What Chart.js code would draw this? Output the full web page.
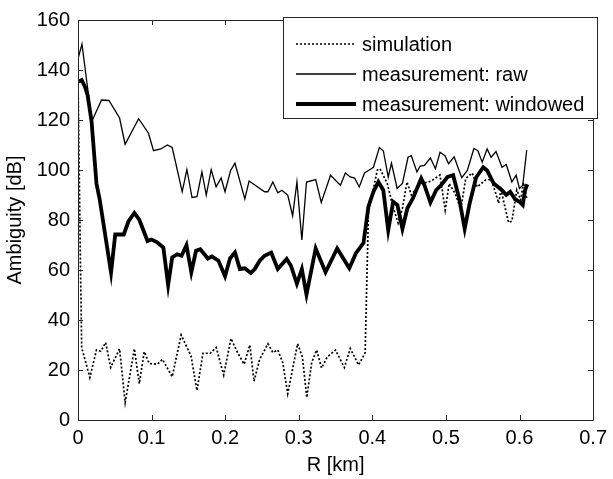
<!DOCTYPE html>
<html>
<head>
<meta charset="utf-8">
<script src="https://cdn.jsdelivr.net/npm/chart.js@4"></script>
<style>
  html, body { margin: 0; padding: 0; background: #fff; }
  #wrap { width: 613px; height: 479px; }
</style>
</head>
<body>
<div id="wrap"><canvas id="myChart" width="613" height="479"></canvas></div>
<script>
// ---- datos ----
const xTicks = [0, 0.1, 0.2, 0.3, 0.4, 0.5, 0.6, 0.7];
const yTicks = [0, 20, 40, 60, 80, 100, 120, 140, 160];
const seriesNames = ["simulation", "measurement: raw", "measurement: windowed"];

const simR = [0, 0.003, 0.005, 0.0161, 0.0251, 0.0309, 0.0376, 0.0444, 0.0565, 0.0641, 0.0766, 0.0833, 0.09, 0.0968, 0.108, 0.1147, 0.128, 0.1402, 0.1536, 0.1617, 0.1698, 0.1797, 0.1878, 0.198, 0.2079, 0.2168, 0.2258, 0.2335, 0.2392, 0.2469, 0.2581, 0.2648, 0.2715, 0.2782, 0.285, 0.2984, 0.3051, 0.3109, 0.3176, 0.3243, 0.331, 0.3387, 0.3499, 0.362, 0.37, 0.3813, 0.388, 0.3902, 0.3947, 0.4068, 0.4104, 0.4203, 0.4274, 0.435, 0.4409, 0.4471, 0.453, 0.4597, 0.4686, 0.4753, 0.482, 0.4919, 0.499, 0.5044, 0.5125, 0.5202, 0.5269, 0.5358, 0.5426, 0.5538, 0.5614, 0.5685, 0.5716, 0.5749, 0.5851, 0.5896, 0.5963, 0.6017, 0.6053, 0.6098];
const simDb = [137, 70, 29, 17, 28, 27.5, 31, 21, 28.5, 7, 28.5, 14.5, 27.3, 22.6, 22.3, 24.3, 17.3, 34, 25.6, 11.8, 26.7, 26.7, 29, 18, 32.6, 27, 22.3, 30, 15.5, 24.3, 30.5, 27, 28, 23, 10.5, 30.5, 25, 9, 23, 28, 20.8, 25.2, 28, 21, 28.6, 22, 25.6, 27, 83, 100, 100.5, 94.6, 86, 78.8, 84.7, 95.2, 90, 92.6, 95, 95, 96, 98, 84, 94.6, 90.6, 84.3, 96.6, 98.8, 93.2, 96, 96.2, 90, 86.7, 92, 79, 79.5, 92, 88, 95, 88.7];

const rawR = [0, 0.0054, 0.0188, 0.032, 0.042, 0.0565, 0.064, 0.0824, 0.0958, 0.1026, 0.1125, 0.1214, 0.128, 0.1416, 0.148, 0.155, 0.1617, 0.1684, 0.1743, 0.181, 0.1877, 0.1945, 0.1998, 0.2074, 0.2133, 0.2267, 0.2325, 0.2536, 0.2581, 0.2648, 0.2715, 0.277, 0.285, 0.2917, 0.2975, 0.3042, 0.3105, 0.323, 0.3306, 0.3432, 0.3566, 0.3633, 0.37, 0.3759, 0.3822, 0.3894, 0.3969, 0.4015, 0.4095, 0.4149, 0.4216, 0.426, 0.4337, 0.4409, 0.4485, 0.453, 0.4606, 0.465, 0.4708, 0.4789, 0.4857, 0.492, 0.4987, 0.5036, 0.5112, 0.517, 0.5215, 0.5291, 0.538, 0.5434, 0.5493, 0.556, 0.5614, 0.5681, 0.5762, 0.582, 0.5896, 0.5954, 0.5999, 0.6044, 0.6098];
const rawDb = [144.5, 150.4, 119.5, 128, 127.8, 120.8, 110.3, 120.5, 114.7, 107.7, 108.4, 110, 109, 91.3, 100.2, 89, 89.3, 99.2, 90, 100.1, 93.3, 96.8, 91.3, 99.8, 102.7, 88.4, 95.6, 91.3, 91.3, 95.2, 90.9, 91.9, 90, 81.7, 95.2, 72, 95.2, 96.2, 87, 97.9, 93.9, 98.8, 97.2, 96.8, 93.2, 98.8, 100.2, 101.1, 109, 107.7, 97.2, 102.7, 92.6, 94.6, 105.1, 105.7, 99.2, 101.6, 101.8, 104.8, 100.5, 107.1, 105.7, 102.5, 105.3, 100.5, 96.9, 99.8, 108.6, 107.7, 103.1, 108.4, 105.1, 107.4, 101.1, 102.2, 95.2, 97.9, 92.6, 93.9, 108];

const winR = [0, 0.005, 0.0094, 0.013, 0.0184, 0.0251, 0.0296, 0.0449, 0.0506, 0.0622, 0.0685, 0.0766, 0.0833, 0.0945, 0.0999, 0.1071, 0.116, 0.1225, 0.128, 0.1348, 0.1407, 0.1474, 0.154, 0.1604, 0.1662, 0.1765, 0.1819, 0.1909, 0.1998, 0.2066, 0.2133, 0.22, 0.2267, 0.2348, 0.2402, 0.2469, 0.2536, 0.2625, 0.2715, 0.2836, 0.2894, 0.2975, 0.3042, 0.3105, 0.323, 0.3364, 0.3522, 0.3687, 0.3777, 0.388, 0.3947, 0.4015, 0.4082, 0.4149, 0.4216, 0.4283, 0.4341, 0.4409, 0.4476, 0.4552, 0.4664, 0.4708, 0.4789, 0.4866, 0.4933, 0.5022, 0.5098, 0.5179, 0.5255, 0.5323, 0.541, 0.5507, 0.556, 0.565, 0.5762, 0.582, 0.5874, 0.594, 0.5999, 0.6044, 0.6075, 0.6106];
const winDb = [135.3, 136, 133.3, 130, 119.5, 94.6, 88, 59, 74.2, 74.2, 79.4, 82.8, 80.1, 71.6, 72.2, 71.2, 69, 54, 65, 66.3, 65.7, 69.9, 59.1, 67.7, 68.3, 64.6, 65.4, 63.7, 57.5, 64.6, 67, 60.4, 60.7, 58.8, 60.4, 63.7, 65.7, 67, 60.4, 64.4, 61.7, 54.5, 60.4, 50.2, 68.6, 59.1, 68.6, 60.7, 66.7, 70.9, 85.4, 91.3, 95.2, 91.9, 75.9, 87.3, 86, 76.5, 84.7, 88.7, 96.6, 93.9, 87, 91.9, 93.9, 97.2, 97.9, 88.7, 76.5, 86.7, 97, 101.1, 99.8, 94.6, 91.9, 90, 91.3, 88.3, 87.3, 86, 91.9, 94.3];

function toPoints(xs, ys) {
	return xs.map((x, i) => ({ x: x, y: ys[i] }));
}

const FONT = "'Liberation Sans', Arial, sans-serif";
const FSIZE = 20;

// caja estilo MATLAB con marcas hacia dentro + leyenda dentro del grafico
const boxPlugin = {
	id: "boxPlugin",
	afterDraw(chart) {
		const c = chart.ctx;
		const a = chart.chartArea;
		const sx = chart.scales.x;
		const sy = chart.scales.y;
		const tl = 5;
		c.save();
		c.strokeStyle = "#262626";
		c.lineWidth = 1;
		c.beginPath();
		c.rect(Math.round(a.left) + 0.5, Math.round(a.top) + 0.5, Math.round(a.right - a.left), Math.round(a.bottom - a.top));
		c.stroke();
		c.beginPath();
		xTicks.forEach((t) => {
			const px = Math.round(sx.getPixelForValue(t)) + 0.5;
			c.moveTo(px, a.bottom); c.lineTo(px, a.bottom - tl);
			c.moveTo(px, a.top); c.lineTo(px, a.top + tl);
		});
		yTicks.forEach((t) => {
			const py = Math.round(sy.getPixelForValue(t)) + 0.5;
			c.moveTo(a.left, py); c.lineTo(a.left + tl, py);
			c.moveTo(a.right, py); c.lineTo(a.right - tl, py);
		});
		c.stroke();

		// leyenda
		const lx = 283, ly = 17, lw = 314, lh = 101;
		c.fillStyle = "#fff";
		c.fillRect(lx, ly, lw, lh);
		c.strokeStyle = "#262626";
		c.strokeRect(lx + 0.5, ly + 0.5, lw, lh);
		c.font = FSIZE + "px " + FONT;
		c.textBaseline = "middle";
		c.textAlign = "left";
		const rows = [44, 74, 104];
		chart.data.datasets.forEach((ds, i) => {
			c.beginPath();
			c.strokeStyle = ds.borderColor;
			c.lineWidth = ds.borderWidth;
			c.setLineDash(ds.borderDash || []);
			c.moveTo(296, rows[i]);
			c.lineTo(356, rows[i]);
			c.stroke();
			c.setLineDash([]);
			c.fillStyle = "#000";
			c.fillText(ds.label, 362, rows[i] + 1);
		});
		c.restore();
	},
};

const ctx = document.getElementById("myChart").getContext("2d");
let myChart = new Chart(ctx, {
	type: "line",
	data: {
		datasets: [
			{
				label: seriesNames[0],
				data: toPoints(simR, simDb),
				borderColor: "#000",
				borderWidth: 1.7,
				borderDash: [2, 2],
			},
			{
				label: seriesNames[1],
				data: toPoints(rawR, rawDb),
				borderColor: "#000",
				borderWidth: 1.3,
			},
			{
				label: seriesNames[2],
				data: toPoints(winR, winDb),
				borderColor: "#000",
				borderWidth: 3.8,
			},
		],
	},
	options: {
		responsive: false,
		animation: false,
		events: [],
		elements: { point: { radius: 0 }, line: { tension: 0 } },
		layout: { padding: { top: 14, right: 14, left: 0, bottom: 0 } },
		plugins: { legend: { display: false }, tooltip: { enabled: false } },
		scales: {
			x: {
				type: "linear",
				min: 0,
				max: 0.7,
				afterBuildTicks: (s) => { s.ticks = xTicks.map((v) => ({ value: v })); },
				afterFit: (s) => { s.height = 59; },
				grid: { display: false, drawTicks: false },
				border: { display: false },
				ticks: { color: "#000", padding: 6, autoSkip: false, maxRotation: 0, font: { family: FONT, size: FSIZE }, callback: (v) => String(v) },
				title: { display: true, text: "R [km]", color: "#000", font: { family: FONT, size: FSIZE }, padding: { top: 2, bottom: 2 } },
			},
			y: {
				min: 0,
				max: 160,
				afterBuildTicks: (s) => { s.ticks = yTicks.map((v) => ({ value: v })); },
				afterFit: (s) => { s.width = 78; },
				grid: { display: false, drawTicks: false },
				border: { display: false },
				ticks: { color: "#000", padding: 8, autoSkip: false, font: { family: FONT, size: FSIZE } },
				title: { display: true, text: "Ambiguity [dB]", color: "#000", font: { family: FONT, size: FSIZE }, padding: { top: 3, bottom: 3 } },
			},
		},
	},
	plugins: [boxPlugin],
});
</script>
</body>
</html>
